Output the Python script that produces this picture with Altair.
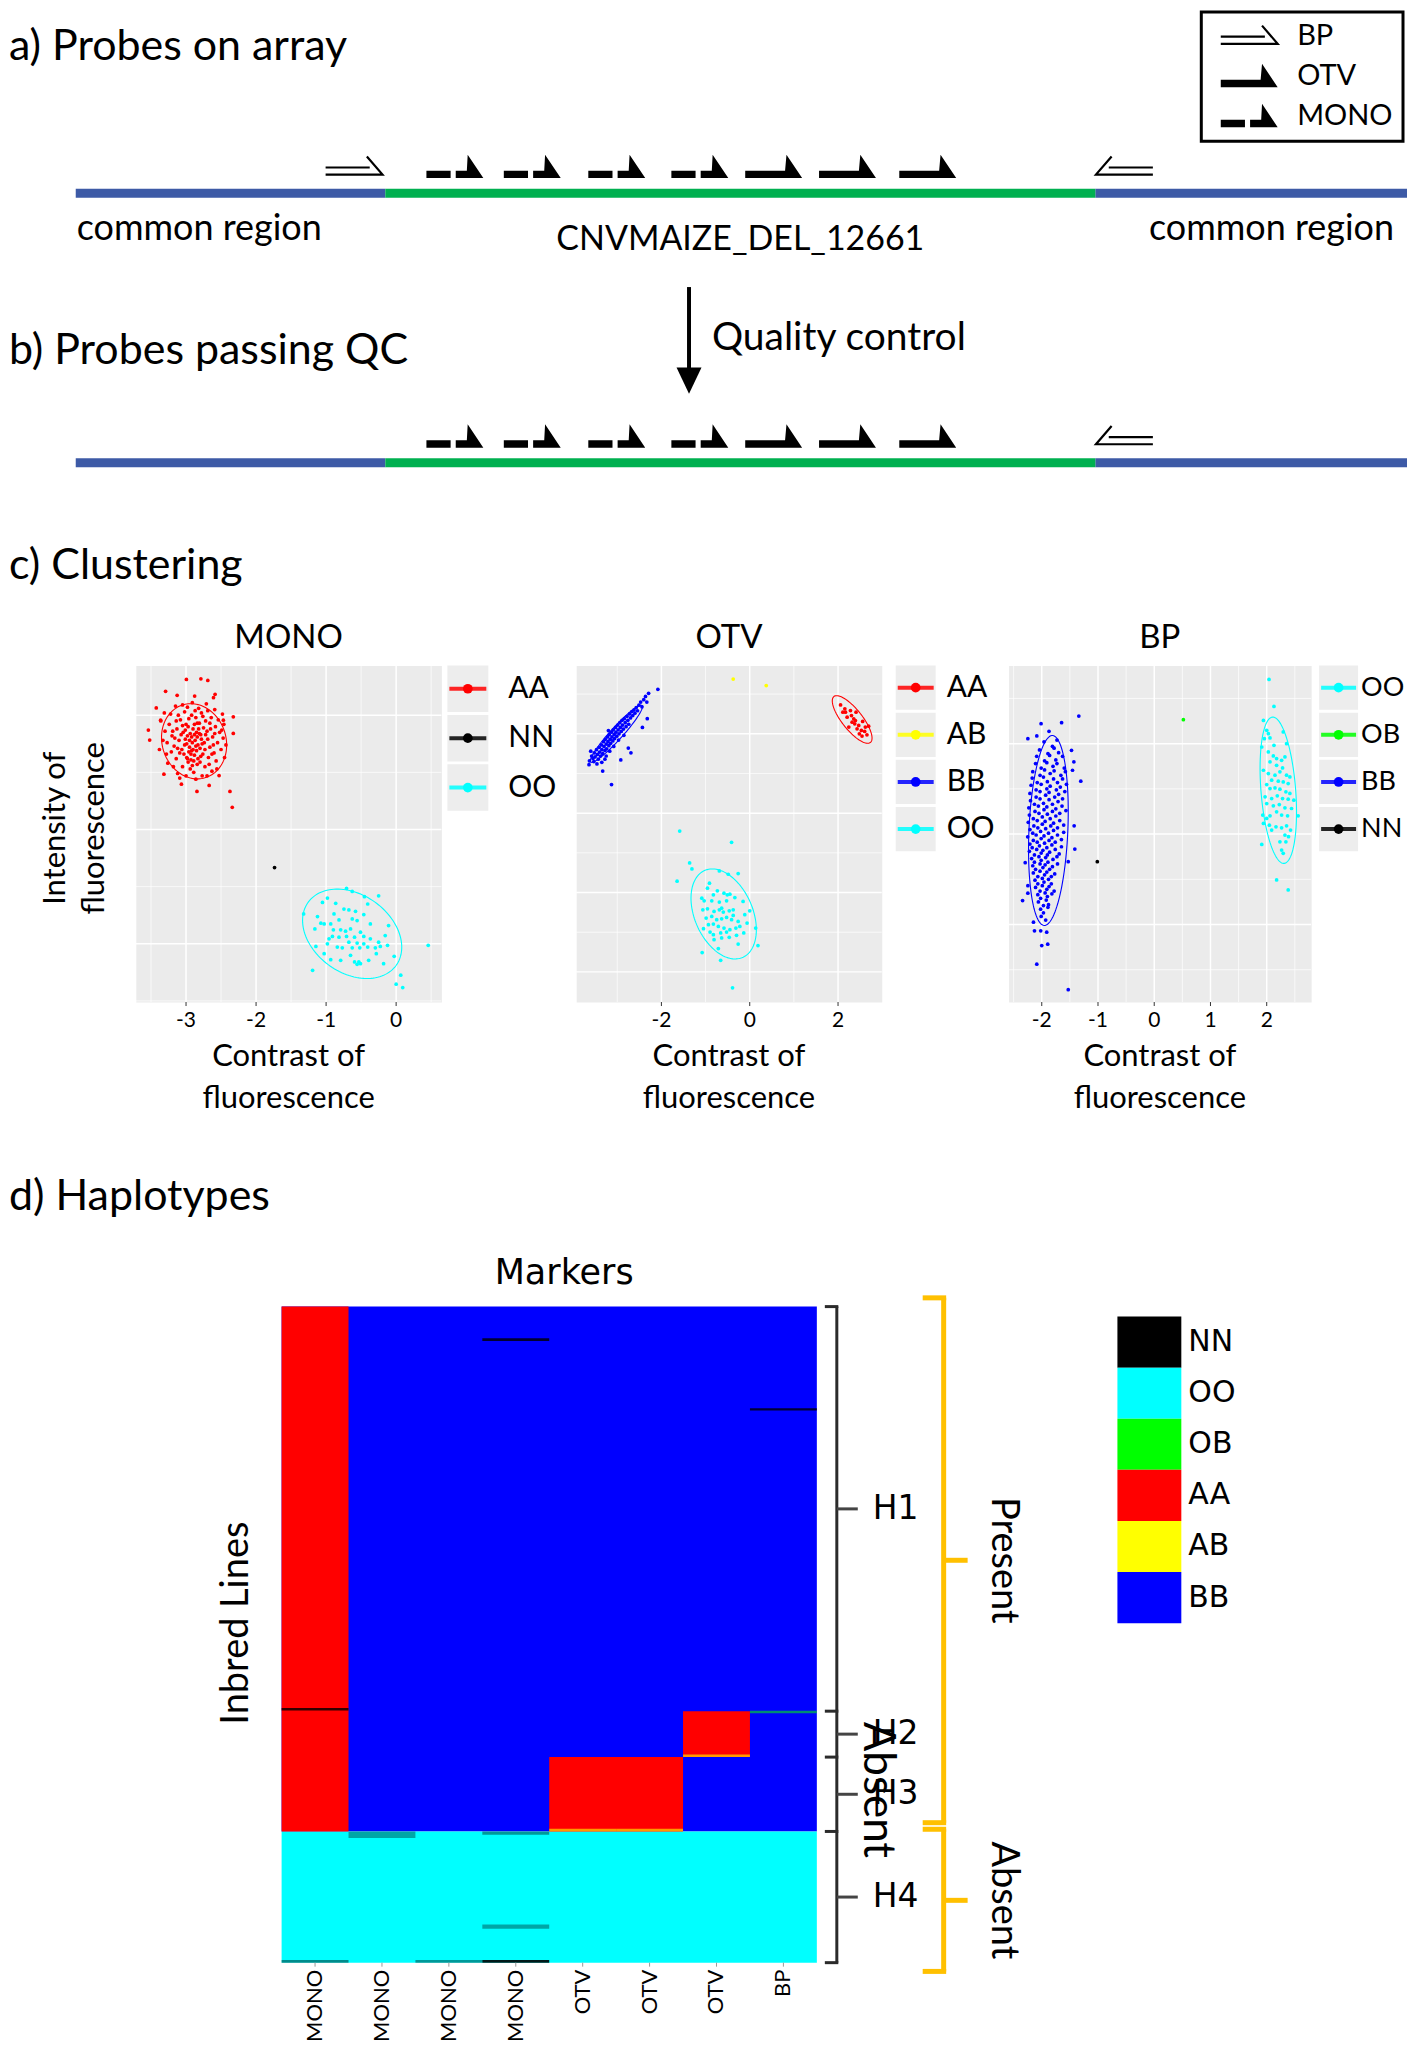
import altair as alt
import pandas as pd

FONT = "Lato"
HFONT = "DejaVu Sans"

# ------------------------------------------------------------------ a/b data
region_name = ["common region", "CNVMAIZE_DEL_12661", "common region"]
region_start = [-43.6, 0.0, 100.0]
region_end = [0.0, 100.0, 143.9]
region_kind = ["common", "deletion", "common"]

probe_type = ["BP", "MONO", "MONO", "MONO", "MONO", "OTV", "OTV", "OTV", "BP"]
probe_pos = [-4.4, 9.8, 20.7, 32.6, 44.3, 54.7, 65.1, 76.4, 104.1]
probe_strand = ["+", "+", "+", "+", "+", "+", "+", "+", "-"]
probe_pass_qc = [False, True, True, True, True, True, True, True, True]
legend_probe_types = ["BP", "OTV", "MONO"]

# ------------------------------------------------------------------ c data
geno_order = ["NN", "OO", "OB", "AA", "AB", "BB"]
geno_colors = ["#000000", "#00FFFF", "#00FF00", "#FF0000", "#FFFF00", "#0000FF"]

mono_aa = [
    (-2.995, 12.313), (-2.788, 12.319), (-2.689, 12.304), (-3.292, 12.209), (-3.127, 12.174),
    (-2.585, 12.183), (-3.425, 12.064), (-3.538, 11.870), (-3.519, 11.783), (-2.325, 11.986),
    (-2.325, 11.841), (-2.373, 11.333), (-2.340, 11.194), (-2.844, 11.333), (-3.066, 11.397),
    (-2.670, 11.386), (-2.528, 11.472), (-3.316, 11.484), (-2.877, 12.168), (-2.608, 12.154),
    (-3.363, 11.957), (-2.467, 11.957),
    (-2.87, 11.78), (-2.92, 11.81), (-2.83, 11.74), (-2.95, 11.72), (-2.79, 11.83), (-2.90, 11.88),
    (-2.85, 11.69), (-3.01, 11.79), (-2.74, 11.76), (-2.88, 11.65), (-2.97, 11.90), (-2.81, 11.93),
    (-3.06, 11.70), (-2.70, 11.86), (-2.93, 11.61), (-2.76, 11.66), (-3.04, 11.85), (-2.86, 11.98),
    (-3.10, 11.78), (-2.66, 11.72), (-2.99, 11.63), (-2.72, 11.95), (-3.13, 11.88), (-2.62, 11.81),
    (-2.84, 11.57), (-3.08, 11.96), (-2.68, 11.63), (-3.17, 11.73), (-2.58, 11.90), (-2.94, 11.53),
    (-2.78, 12.02), (-3.02, 12.03), (-2.64, 11.98), (-3.20, 11.82), (-2.55, 11.76), (-2.89, 11.50),
    (-2.98, 12.07), (-2.73, 11.55), (-3.14, 11.62), (-2.60, 11.67), (-3.24, 11.92), (-2.52, 11.85),
    (-2.82, 12.06), (-3.11, 12.00), (-2.69, 12.04), (-3.27, 11.76), (-2.50, 11.70), (-3.05, 11.55),
    (-2.77, 11.47), (-2.91, 12.11), (-3.18, 11.55), (-2.57, 11.60), (-3.30, 11.86), (-2.47, 11.80),
    (-3.00, 11.47), (-2.63, 11.51), (-3.22, 12.01), (-2.54, 11.96), (-2.86, 11.44), (-3.28, 11.66),
    (-2.46, 11.92), (-3.33, 11.78), (-2.45, 11.63), (-3.09, 11.45), (-2.71, 12.10), (-3.15, 12.08),
    (-2.59, 12.05), (-3.36, 11.95), (-2.43, 11.74), (-2.96, 11.68), (-2.80, 11.71), (-2.91, 11.76),
    (-2.85, 11.85), (-2.94, 11.84), (-2.78, 11.79), (-2.99, 11.75), (-2.83, 11.62), (-2.88, 11.92),
    (-3.03, 11.66), (-2.75, 11.89), (-2.69, 11.79), (-3.07, 11.83), (-2.96, 11.97), (-2.80, 11.59),
    (-3.12, 11.71), (-2.65, 11.88), (-2.90, 11.70), (-2.84, 11.81), (-2.97, 11.59), (-2.73, 11.70),
    (-3.00, 11.92), (-2.76, 11.99), (-3.16, 11.80), (-2.61, 11.74), (-2.92, 12.00), (-3.05, 12.09),
    (-2.67, 11.57), (-3.21, 11.68), (-2.49, 11.87), (-3.38, 11.70), (-2.87, 12.04), (-2.98, 11.82),
    (-2.82, 11.88), (-2.93, 11.66), (-2.89, 11.60), (-3.01, 11.87), (-2.79, 11.64), (-3.26, 11.58),
    (-2.56, 11.53), (-3.31, 12.02), (-2.48, 12.01), (-3.12, 11.49), (-2.70, 11.47),
    (-2.86, 11.73), (-2.95, 11.78), (-2.81, 11.84), (-3.02, 11.74), (-2.77, 11.75), (-2.92, 11.69),
    (-2.88, 11.83), (-3.05, 11.91), (-2.72, 11.83), (-2.98, 11.62), (-2.84, 11.93), (-3.09, 11.67),
    (-2.66, 11.93), (-3.19, 11.86), (-2.63, 11.66), (-3.14, 11.95), (-2.59, 11.84), (-2.91, 11.56),
]
mono_nn = [(-1.736, 10.667)]
mono_oo = [
    (-0.708, 10.484), (-0.627, 10.458), (-0.453, 10.412), (-0.250, 10.420), (-0.981, 10.400),
    (-1.052, 10.362), (-0.863, 10.354), (-0.406, 10.348), (-0.745, 10.304), (-0.675, 10.296),
    (-0.580, 10.284), (-1.321, 10.261), (-1.123, 10.238), (-0.887, 10.261), (-0.462, 10.255),
    (-1.028, 10.174), (-0.934, 10.174), (-1.075, 10.180), (-0.816, 10.209), (-0.627, 10.217),
    (-0.557, 10.203), (-0.368, 10.174), (-1.160, 10.130), (-0.896, 10.122), (-0.792, 10.122),
    (-0.722, 10.110), (-0.651, 10.130), (-0.509, 10.101), (-0.108, 10.159), (-0.958, 10.043),
    (-0.910, 10.064), (-0.816, 10.058), (-0.708, 10.064), (-0.594, 10.058), (-0.462, 10.064),
    (-0.368, 10.043), (-0.156, 10.072), (-0.981, 10.000), (-0.675, 10.014), (-0.557, 10.006),
    (-0.462, 10.000), (-0.250, 10.014), (-0.226, 9.977), (-1.146, 9.977), (-0.840, 9.971),
    (-0.769, 9.965), (-0.627, 9.965), (-0.519, 9.965), (-0.406, 9.971), (-0.297, 9.965),
    (-0.123, 9.986), (0.458, 9.986), (-0.934, 9.861), (-0.651, 9.899), (-0.594, 9.841),
    (-0.557, 9.820), (-0.533, 9.841), (-0.509, 9.826), (-0.392, 9.855), (-0.179, 9.826),
    (-0.283, 9.913), (-0.028, 9.890), (-1.193, 9.768), (0.066, 9.725), (0.000, 9.646),
    (0.094, 9.617), (-1.028, 9.913), (-0.792, 9.855),
]

otv_aa = [
    (2.057, 3.364), (2.169, 3.272), (2.281, 3.293), (2.408, 3.272), (2.206, 3.209), (2.319, 3.146),
    (2.378, 3.126), (2.468, 3.105), (2.558, 3.155), (2.618, 3.084), (2.693, 3.096), (2.483, 3.000),
    (2.543, 2.971), (2.655, 2.987), (2.244, 3.084), (2.109, 3.272), (2.356, 3.188), (2.431, 3.063),
    (2.304, 3.230), (2.528, 3.042), (2.603, 3.029), (2.154, 3.314), (2.393, 3.167),
]
otv_ab = [(-0.374, 3.690), (0.374, 3.607)]
otv_bb = [
    (-3.63, 2.66), (-3.58, 2.72), (-3.55, 2.69), (-3.52, 2.76), (-3.50, 2.71), (-3.47, 2.80),
    (-3.45, 2.74), (-3.43, 2.68), (-3.41, 2.83), (-3.40, 2.77), (-3.38, 2.72), (-3.36, 2.86),
    (-3.35, 2.80), (-3.33, 2.75), (-3.31, 2.90), (-3.30, 2.84), (-3.28, 2.79), (-3.27, 2.93),
    (-3.25, 2.87), (-3.24, 2.81), (-3.22, 2.96), (-3.21, 2.90), (-3.19, 2.85), (-3.18, 2.99),
    (-3.16, 2.93), (-3.15, 2.88), (-3.13, 3.02), (-3.12, 2.96), (-3.10, 2.91), (-3.09, 3.05),
    (-3.07, 2.99), (-3.06, 2.94), (-3.04, 3.08), (-3.03, 3.02), (-3.01, 2.97), (-2.99, 3.11),
    (-2.98, 3.05), (-2.96, 3.00), (-2.94, 3.14), (-2.93, 3.08), (-2.91, 3.03), (-2.89, 3.17),
    (-2.88, 3.11), (-2.86, 3.06), (-2.84, 3.19), (-2.82, 3.14), (-2.80, 3.09), (-2.78, 3.22),
    (-2.76, 3.17), (-2.74, 3.12), (-2.72, 3.25), (-2.70, 3.20), (-2.67, 3.28), (-2.65, 3.23),
    (-2.62, 3.30), (-2.60, 3.26), (-2.57, 3.33), (-2.54, 3.29), (-2.51, 3.36), (-2.47, 3.40),
    (-2.44, 3.34), (-2.40, 3.43), (-2.36, 3.47), (-2.33, 3.40), (-2.29, 3.51), (-2.08, 3.56),
    (-3.33, 2.53), (-3.13, 2.36), (-2.75, 2.82), (-2.69, 2.76), (-2.92, 2.67), (-2.32, 3.19),
    (-2.43, 3.08), (-3.46, 2.62), (-3.53, 2.65), (-3.35, 2.64), (-3.60, 2.78), (-3.25, 2.72),
    (-3.17, 2.78), (-3.64, 2.61), (-3.28, 2.68), (-3.20, 3.04), (-3.08, 2.84), (-2.97, 2.92),
    (-2.85, 2.98),
]
otv_oo = [
    (-1.586, 1.774), (-0.411, 1.632), (-1.361, 1.372), (-1.309, 1.297), (-1.645, 1.142),
    (-0.688, 1.272), (-0.486, 1.230), (-0.262, 1.238), (-0.912, 1.117), (-0.957, 1.054),
    (-0.733, 1.021), (-0.583, 0.992), (-0.509, 0.971), (-0.449, 0.979), (-0.823, 0.971),
    (-1.085, 0.929), (-1.032, 0.895), (-0.860, 0.895), (-0.688, 0.879), (-0.524, 0.895),
    (-0.337, 0.937), (-0.150, 0.887), (-1.062, 0.782), (-0.957, 0.795), (-0.808, 0.762),
    (-0.688, 0.782), (-0.598, 0.753), (-0.464, 0.770), (-0.374, 0.782), (0.000, 0.770),
    (-0.987, 0.678), (-0.860, 0.699), (-0.748, 0.657), (-0.636, 0.669), (-0.524, 0.686),
    (-0.411, 0.657), (-0.112, 0.720), (-0.262, 0.636), (-0.823, 0.603), (-0.711, 0.573),
    (-0.583, 0.552), (-0.449, 0.531), (-0.314, 0.552), (-0.224, 0.573), (-0.060, 0.615),
    (-1.047, 0.544), (-0.898, 0.502), (-0.658, 0.490), (-0.524, 0.502), (-0.299, 0.460),
    (-0.135, 0.490), (0.135, 0.552), (-0.808, 0.406), (-0.636, 0.427), (-0.464, 0.435),
    (-0.262, 0.351), (-0.711, 0.293), (-1.077, 0.243), (-0.658, 0.146), (0.187, 0.331),
    (-0.389, -0.201), (-0.823, 0.469), (-0.374, 0.711), (-0.636, 0.803), (-0.935, 0.594),
]

bp_bb = [
    (-1.341, 2.305), (-1.647, 2.232), (-2.012, 2.221), (-2.247, 2.055), (-2.088, 2.085),
    (-1.871, 2.136), (-1.471, 1.926), (-1.429, 1.798), (-1.453, 1.706), (-1.306, 1.585),
    (-1.424, 1.092), (-1.412, 0.835), (-2.294, 0.684), (-2.247, 0.430), (-2.247, 0.346),
    (-2.341, 0.265), (-2.147, 0.026), (-2.129, -0.070), (-2.018, -0.070), (-1.912, -0.085),
    (-2.000, -0.232), (-1.894, -0.217), (-2.088, -0.438), (-1.529, -0.721), (-1.529, 0.695),
    (-1.96, 2.02), (-1.81, 1.97), (-1.73, 2.04), (-2.04, 1.93), (-1.89, 1.89), (-1.78, 1.95),
    (-1.70, 1.90), (-2.09, 1.86), (-1.95, 1.81), (-1.86, 1.87), (-1.75, 1.82), (-1.63, 1.86),
    (-2.11, 1.78), (-2.01, 1.73), (-1.91, 1.79), (-1.80, 1.75), (-1.73, 1.78), (-1.60, 1.73),
    (-2.16, 1.69), (-2.03, 1.65), (-1.95, 1.71), (-1.85, 1.67), (-1.78, 1.70), (-1.66, 1.65),
    (-1.58, 1.69), (-2.17, 1.62), (-2.08, 1.57), (-1.97, 1.63), (-1.90, 1.58), (-1.79, 1.61),
    (-1.72, 1.57), (-1.63, 1.61), (-2.19, 1.54), (-2.10, 1.49), (-2.01, 1.55), (-1.91, 1.50),
    (-1.85, 1.53), (-1.74, 1.49), (-1.67, 1.52), (-1.56, 1.55), (-2.21, 1.45), (-2.10, 1.41),
    (-2.03, 1.47), (-1.93, 1.43), (-1.87, 1.46), (-1.77, 1.41), (-1.70, 1.44), (-1.59, 1.47),
    (-2.20, 1.37), (-2.13, 1.33), (-2.03, 1.39), (-1.97, 1.34), (-1.87, 1.38), (-1.81, 1.33),
    (-1.71, 1.36), (-1.63, 1.39), (-2.23, 1.29), (-2.12, 1.25), (-2.06, 1.31), (-1.96, 1.27),
    (-1.91, 1.30), (-1.81, 1.25), (-1.75, 1.28), (-1.64, 1.31), (-1.57, 1.26), (-2.22, 1.21),
    (-2.15, 1.17), (-2.05, 1.23), (-1.99, 1.19), (-1.90, 1.22), (-1.85, 1.17), (-1.75, 1.20),
    (-1.68, 1.23), (-2.24, 1.13), (-2.14, 1.09), (-2.08, 1.15), (-1.99, 1.11), (-1.94, 1.14),
    (-1.84, 1.09), (-1.79, 1.12), (-1.68, 1.15), (-1.61, 1.10), (-2.21, 1.05), (-2.16, 1.01),
    (-2.07, 1.07), (-2.02, 1.03), (-1.93, 1.06), (-1.88, 1.01), (-1.79, 1.04), (-1.72, 1.07),
    (-1.61, 1.02), (-2.25, 0.97), (-2.15, 0.93), (-2.10, 0.99), (-2.01, 0.95), (-1.96, 0.98),
    (-1.87, 0.93), (-1.82, 0.96), (-1.72, 0.99), (-1.65, 0.94), (-2.21, 0.89), (-2.17, 0.85),
    (-2.08, 0.91), (-2.04, 0.87), (-1.95, 0.90), (-1.91, 0.85), (-1.82, 0.88), (-1.76, 0.91),
    (-1.65, 0.86), (-2.22, 0.81), (-2.13, 0.77), (-2.09, 0.83), (-2.01, 0.79), (-1.98, 0.82),
    (-1.90, 0.77), (-1.86, 0.80), (-1.76, 0.83), (-1.69, 0.78), (-2.18, 0.73), (-2.13, 0.69),
    (-2.05, 0.75), (-2.01, 0.71), (-1.93, 0.74), (-1.89, 0.69), (-1.80, 0.72), (-1.73, 0.75),
    (-2.16, 0.65), (-2.11, 0.61), (-2.03, 0.67), (-1.98, 0.63), (-1.94, 0.66), (-1.86, 0.61),
    (-1.81, 0.64), (-1.72, 0.67), (-2.15, 0.57), (-2.07, 0.53), (-2.03, 0.59), (-1.95, 0.55),
    (-1.91, 0.58), (-1.83, 0.53), (-1.77, 0.56), (-2.12, 0.49), (-2.07, 0.45), (-1.99, 0.51),
    (-1.96, 0.47), (-1.88, 0.50), (-1.83, 0.45), (-2.11, 0.41), (-2.03, 0.37), (-1.99, 0.43),
    (-1.91, 0.39), (-1.87, 0.42), (-1.78, 0.37), (-2.07, 0.33), (-2.02, 0.29), (-1.94, 0.35),
    (-1.90, 0.31), (-1.82, 0.34), (-2.06, 0.25), (-1.97, 0.21), (-1.92, 0.27), (-1.88, 0.22),
    (-2.02, 0.17), (-1.97, 0.13), (-1.89, 0.19), (-2.01, 0.09), (-1.93, 0.05),
]
bp_nn = [(-1.012, 0.695)]
bp_ob = [(0.518, 2.265)]
bp_oo = [
    (2.041, 2.710), (2.129, 2.412), (1.941, 2.257), (2.000, 2.147), (2.029, 2.110), (2.059, 2.063),
    (2.294, 2.129), (2.353, 2.000), (1.912, 1.963), (2.029, 1.908), (2.118, 1.864), (2.176, 1.835),
    (2.265, 1.816), (2.324, 1.853), (2.059, 1.798), (2.176, 1.761), (2.282, 1.732), (1.941, 1.706),
    (2.029, 1.669), (2.147, 1.651), (2.235, 1.688), (2.353, 1.651), (2.088, 1.596), (2.206, 1.585),
    (2.294, 1.577), (2.382, 1.559), (2.000, 1.548), (2.059, 1.504), (2.147, 1.511), (2.235, 1.496),
    (2.341, 1.467), (2.412, 1.449), (1.971, 1.412), (2.088, 1.393), (2.188, 1.423), (2.282, 1.393),
    (2.382, 1.386), (2.482, 1.375), (2.000, 1.338), (2.118, 1.313), (2.224, 1.327), (2.324, 1.290),
    (2.441, 1.283), (1.929, 1.210), (2.059, 1.202), (2.176, 1.246), (2.265, 1.210), (2.371, 1.202),
    (2.559, 1.202), (1.941, 1.118), (2.047, 1.099), (2.165, 1.081), (2.265, 1.070), (2.353, 1.092),
    (2.424, 1.044), (2.088, 1.044), (2.000, 1.173), (2.324, 0.989), (2.388, 0.971), (2.235, 0.915),
    (2.341, 0.915), (1.912, 0.886), (2.265, 0.824), (2.294, 0.787), (2.176, 0.493), (2.382, 0.382),
    (1.959, 2.055), (2.129, 1.982), (2.412, 1.632),
]

# ellipses: genotype, centre x, centre y, half-width, half-height, correlation
mono_ellipses = [("AA", -2.885, 11.772, 0.465, 0.329, -0.10), ("OO", -0.628, 10.087, 0.708, 0.391, -0.30)]
otv_ellipses = [("BB", -3.02, 3.00, 0.59, 0.36, 0.95), ("AA", 2.32, 3.18, 0.45, 0.30, -0.78),
                ("OO", -0.59, 0.73, 0.74, 0.567, -0.35)]
bp_ellipses = [("BB", -1.882, 1.04, 0.353, 1.05, 0.20), ("OO", 2.206, 1.485, 0.324, 0.809, -0.30)]

mono_legend = ["AA", "NN", "OO"]
otv_legend = ["AA", "AB", "BB", "OO"]
bp_legend = ["OO", "OB", "BB", "NN"]

# ------------------------------------------------------------------ d data
markers = ["MONO.1", "MONO.2", "MONO.3", "MONO.4", "OTV.1", "OTV.2", "OTV.3", "BP.1"]
# genotype blocks: first marker, last marker, first line, last line, call
block_first = ["MONO.1", "MONO.1", "MONO.1", "OTV.1", "OTV.3"]
block_last = ["BP.1", "BP.1", "MONO.1", "OTV.2", "OTV.3"]
block_start = [0, 240, 0, 206, 185]
block_end = [240, 300, 240, 240, 206]
block_geno = ["BB", "OO", "AA", "AA", "AA"]
# single lines with a different call
line_marker = ["MONO.4", "BP.1", "MONO.1", "BP.1", "OTV.3", "OTV.1", "OTV.2", "MONO.2", "MONO.4",
               "MONO.4", "MONO.1", "MONO.3", "MONO.4"]
line_start = [14.5, 46.5, 183.5, 184.8, 204.8, 238.8, 238.8, 240, 240, 282.5, 298.8, 298.8, 298.8]
line_end = [15.7, 47.5, 184.7, 186.0, 206.0, 240.0, 240.0, 243, 241.5, 284.5, 300, 300, 300]
line_geno = ["NN", "NN", "NN", "OB", "AB", "AB", "AB", "NN", "NN", "NN", "NN", "NN", "NN"]
line_alpha = [0.8, 0.8, 0.8, 0.55, 0.6, 0.6, 0.6, 0.35, 0.4, 0.35, 0.45, 0.4, 0.9]

hap_name = ["H1", "H2", "H3", "H4"]
hap_start = [0, 185, 206, 240]
hap_end = [185, 206, 240, 300]
pres_name = ["Present", "Absent"]
pres_top = [-4, 239]
pres_bottom = [236, 304]
ghost_label = ["Absent"]
ghost_row = [221]

# ================================================================== helpers
GENO = alt.Scale(domain=geno_order, range=geno_colors)
ONE = pd.DataFrame({"v": [0]})
BLUE_TRACK = "#3D5AA6"
GREEN_TRACK = "#00B050"


def spacer(w, h):
    return alt.Chart(ONE).mark_point(opacity=0, size=1).encode(
        x=alt.value(w / 2), y=alt.value(h / 2)).properties(width=w, height=h)


def label(text, x, y, size, align="left", font=FONT, angle=0, baseline="alphabetic"):
    return alt.Chart(ONE).mark_text(
        align=align, baseline=baseline, font=font, fontSize=size, angle=angle,
        fontWeight="normal", color="black").encode(
        x=alt.value(x), y=alt.value(y), text=alt.value(text))


# ================================================================== row a/b
XG = alt.Scale(domain=[-53.0, 143.9], nice=False, zero=False)
PATHS = {
    "MONO+": "M-1,-0.02L-0.15,-0.02L-0.15,0.24L-1,0.24Z M0.03,-0.02L0.42,-0.02L0.45,-0.58L1,0.24L0.03,0.24Z",
    "OTV+": "M-1,-0.02L0.4,-0.02L0.45,-0.58L1,0.24L-1,0.24Z",
    "BP+": "M-1,-0.13L0.55,-0.13M-1,0.12L1,0.12L0.45,-0.52",
    "BP-": "M1,-0.13L-0.55,-0.13M1,0.12L-1,0.12L-0.45,-0.52",
}
SHAPE = alt.Scale(domain=list(PATHS.keys()), range=list(PATHS.values()))

reg_df = pd.DataFrame({"name": region_name, "start": region_start, "end": region_end,
                       "kind": region_kind, "idx": [0, 1, 2]})
probe_df = pd.DataFrame({"type": probe_type, "pos": probe_pos, "strand": probe_strand, "qc": probe_pass_qc})


def track(y_line, y_probe, qc_only):
    out = []
    for kind, col in (("common", BLUE_TRACK), ("deletion", GREEN_TRACK)):
        out.append(alt.Chart(reg_df).transform_filter(f"datum.kind == '{kind}'").mark_rect(
            color=col).encode(
            x=alt.X("start:Q", scale=XG, axis=None), x2="end:Q",
            y=alt.value(y_line - 4.5), y2=alt.value(y_line + 4.5)))
    pb = alt.Chart(probe_df)
    if qc_only:
        pb = pb.transform_filter("datum.qc")
    pb = pb.transform_calculate(skey="datum.type + datum.strand")
    out.append(pb.transform_filter("datum.type != 'BP'").mark_point(
        filled=True, opacity=1, color="black", strokeWidth=0).encode(
        x=alt.X("pos:Q", scale=XG, axis=None), y=alt.value(y_probe),
        shape=alt.Shape("skey:N", scale=SHAPE, legend=None), size=alt.value(3249)))
    out.append(pb.transform_filter("datum.type == 'BP'").mark_point(
        filled=False, opacity=1, color="black", strokeWidth=2.2).encode(
        x=alt.X("pos:Q", scale=XG, axis=None), y=alt.value(y_probe),
        shape=alt.Shape("skey:N", scale=SHAPE, legend=None), size=alt.value(3249)))
    return out


region_labels = [
    alt.Chart(reg_df).transform_filter("datum.idx == 0").mark_text(
        align="left", baseline="alphabetic", font=FONT, fontSize=36, color="black", dx=1).encode(
        x=alt.X("start:Q", scale=XG, axis=None), y=alt.value(230), text="name:N"),
    alt.Chart(reg_df).transform_filter("datum.idx == 1").transform_calculate(
        mid="(datum.start + datum.end) / 2").mark_text(
        align="center", baseline="alphabetic", font=FONT, fontSize=34, color="black").encode(
        x=alt.X("mid:Q", scale=XG, axis=None), y=alt.value(240), text="name:N"),
    alt.Chart(reg_df).transform_filter("datum.idx == 2").mark_text(
        align="right", baseline="alphabetic", font=FONT, fontSize=36, color="black", dx=-13).encode(
        x=alt.X("end:Q", scale=XG, axis=None), y=alt.value(230), text="name:N"),
]

leg_df = pd.DataFrame({"type": legend_probe_types})
LY = alt.Scale(domain=legend_probe_types, range=[30, 110], padding=0)
leg_base = alt.Chart(leg_df).transform_calculate(skey="datum.type + '+'")
probe_legend = [
    alt.Chart(ONE).mark_rect(fillOpacity=0, stroke="black", strokeWidth=3).encode(
        x=alt.value(1194), x2=alt.value(1396), y=alt.value(1.5), y2=alt.value(131)),
    leg_base.transform_filter("datum.type != 'BP'").mark_point(
        filled=True, opacity=1, color="black", strokeWidth=0).encode(
        x=alt.value(1242), y=alt.Y("type:N", scale=LY, axis=None),
        shape=alt.Shape("skey:N", scale=SHAPE, legend=None), size=alt.value(3249)),
    leg_base.transform_filter("datum.type == 'BP'").mark_point(
        filled=False, opacity=1, color="black", strokeWidth=2.2).encode(
        x=alt.value(1242), y=alt.Y("type:N", scale=LY, axis=None),
        shape=alt.Shape("skey:N", scale=SHAPE, legend=None), size=alt.value(3249)),
    alt.Chart(leg_df).mark_text(align="left", baseline="alphabetic", font=FONT, fontSize=29,
                                color="black", dy=5).encode(
        x=alt.value(1290), y=alt.Y("type:N", scale=LY, axis=None), text="type:N"),
]

qc_arrow = [
    alt.Chart(ONE).mark_rule(strokeWidth=4, color="black").encode(
        x=alt.value(681), y=alt.value(277), y2=alt.value(361)),
    alt.Chart(ONE).mark_point(shape="M-1,-1L1,-1L0,1.1Z", filled=True, opacity=1,
                              color="black", size=625).encode(x=alt.value(681), y=alt.value(370)),
    label("Quality control", 704, 340, 39),
]

row_top = alt.layer(
    *track(183, 161, False), *track(453, 431, True), *region_labels, *probe_legend, *qc_arrow,
    label("a) Probes on array", 0, 50, 43),
    label("b) Probes passing QC", 0, 354, 43),
    label("c) Clustering", 0, 569, 43),
).properties(width=1400, height=656)


# ================================================================== row c
def ellipse_layer(g, cx, cy, hx, hy, rho, xs, ys):
    col = geno_colors[geno_order.index(g)]
    return alt.Chart(alt.sequence(0, 6.35, 0.05, as_="t")).transform_calculate(
        ex=f"{cx} + {hx} * cos(datum.t)",
        ey=f"{cy} + {hy} * (({rho}) * cos(datum.t) + sqrt(1 - ({rho}) * ({rho})) * sin(datum.t))",
    ).mark_line(color=col, strokeWidth=1.1).encode(
        x=alt.X("ex:Q", scale=xs, axis=None), y=alt.Y("ey:Q", scale=ys, axis=None), order="t:Q")


def scatter_panel(name, groups, ellipses, xdom, ydom, xmaj, xmin, ymaj, ymin, w, h, ytitle):
    xs = alt.Scale(domain=xdom, nice=False, zero=False)
    ys = alt.Scale(domain=ydom, nice=False, zero=False)
    rows = []
    for g, pts in groups:
        for (px, py) in pts:
            rows.append({"x": px, "y": py, "g": g})
    df = pd.DataFrame(rows)
    tick_df = pd.DataFrame({"v": xmaj})
    layers = [
        alt.Chart(pd.DataFrame({"v": xmin})).mark_rule(color="white", strokeWidth=0.7).encode(
            x=alt.X("v:Q", scale=xs, axis=None)),
        alt.Chart(pd.DataFrame({"v": ymin})).mark_rule(color="white", strokeWidth=0.7).encode(
            y=alt.Y("v:Q", scale=ys, axis=None)),
        alt.Chart(tick_df).mark_rule(color="white", strokeWidth=1.5).encode(
            x=alt.X("v:Q", scale=xs, axis=None)),
        alt.Chart(pd.DataFrame({"v": ymaj})).mark_rule(color="white", strokeWidth=1.5).encode(
            y=alt.Y("v:Q", scale=ys, axis=None)),
        # x axis: ticks, tick labels, two-line title
        alt.Chart(tick_df).mark_rule(color="#333333", strokeWidth=1).encode(
            x=alt.X("v:Q", scale=xs, axis=None), y=alt.value(h), y2=alt.value(h + 4)),
        alt.Chart(tick_df).transform_calculate(lab="'' + datum.v").mark_text(
            font=FONT, fontSize=21, color="black", baseline="middle", align="center").encode(
            x=alt.X("v:Q", scale=xs, axis=None), y=alt.value(h + 19), text="lab:N"),
        label("Contrast of", w / 2, h + 55, 31, align="center", baseline="middle"),
        label("fluorescence", w / 2, h + 97, 31, align="center", baseline="middle"),
    ]
    if ytitle:
        layers.append(label("Intensity of", -80, 163, 31, align="center", angle=270, baseline="middle"))
        layers.append(label("fluorescence", -41, 163, 31, align="center", angle=270, baseline="middle"))
    layers.append(alt.Chart(df).mark_circle(size=14, opacity=1).encode(
        x=alt.X("x:Q", scale=xs, axis=None), y=alt.Y("y:Q", scale=ys, axis=None),
        color=alt.Color("g:N", scale=GENO, legend=None)))
    for e in ellipses:
        layers.append(ellipse_layer(*e, xs, ys))
    return alt.layer(*layers).properties(
        width=w, height=h,
        title=alt.TitleParams(name, font=FONT, fontSize=33, fontWeight="normal", color="black",
                              offset=10, anchor="middle"),
        view=alt.ViewBackground(fill="#EBEBEB", stroke="transparent"))


def legend_panel(cats, step, kx0, kx1, lx, w, fs=30):
    df = pd.DataFrame({"g": cats})
    ys = alt.Scale(domain=cats, paddingInner=0.06, paddingOuter=0)
    base = alt.Chart(df)
    rect = base.mark_rect(color="#EDEDED").encode(
        x=alt.value(kx0), x2=alt.value(kx1), y=alt.Y("g:N", scale=ys, axis=None))
    line = base.mark_rule(strokeWidth=4, opacity=0.85).encode(
        x=alt.value(kx0 + 2), x2=alt.value(kx1 - 2), y=alt.Y("g:N", scale=ys, axis=None, bandPosition=0.5),
        color=alt.Color("g:N", scale=GENO, legend=None))
    pt = base.mark_circle(size=95, opacity=1).encode(
        x=alt.value((kx0 + kx1) / 2), y=alt.Y("g:N", scale=ys, axis=None, bandPosition=0.5),
        color=alt.Color("g:N", scale=GENO, legend=None))
    txt = base.mark_text(align="left", baseline="middle", font=FONT, fontSize=fs, color="black").encode(
        x=alt.value(lx), y=alt.Y("g:N", scale=ys, axis=None, bandPosition=0.5), text="g:N")
    return alt.layer(rect, line, pt, txt).properties(width=w, height=step * len(cats))


mono = scatter_panel("MONO", [("AA", mono_aa), ("OO", mono_oo), ("NN", mono_nn)], mono_ellipses,
                     [-3.717, 0.646], [9.49, 12.435], [-3, -2, -1, 0], [-3.5, -2.5, -1.5, -0.5, 0.5],
                     [10, 11, 12], [9.5, 10.5, 11.5], 306, 337, True)
otv = scatter_panel("OTV", [("BB", otv_bb), ("OO", otv_oo), ("AA", otv_aa), ("AB", otv_ab)], otv_ellipses,
                    [-3.93, 2.99], [-0.38, 3.86], [-2, 0, 2], [-3, -1, 1],
                    [0, 1, 2, 3], [0.5, 1.5, 2.5, 3.5], 306, 337, False)
bp = scatter_panel("BP", [("BB", bp_bb), ("OO", bp_oo), ("NN", bp_nn), ("OB", bp_ob)], bp_ellipses,
                   [-2.59, 2.79], [-0.857, 2.864], [-2, -1, 0, 1, 2], [-2.5, -1.5, -0.5, 0.5, 1.5, 2.5],
                   [0, 1, 2], [-0.5, 0.5, 1.5, 2.5], 303, 337, False)

row_c = alt.hconcat(
    spacer(127, 337), mono, legend_panel(mono_legend, 48.5, 6, 47, 67, 135),
    otv, legend_panel(otv_legend, 46.5, 14, 54, 65, 127),
    bp, legend_panel(bp_legend, 46.5, 8, 47, 50, 88, fs=27),
    spacing=0, bounds="flush")

# nested concat rows count as zero height in a flush layout, so this row covers
# the scatter row (337) and the gap above the heatmap (305)
row_mid = alt.layer(spacer(1400, 642), label("d) Haplotypes", 0, 545, 43)).properties(width=1400, height=642)

# ================================================================== row d
HY = alt.Scale(domain=[0, 300], reverse=True, nice=False, zero=False)
HX = alt.Scale(domain=[0, len(markers)], nice=False, zero=False)
blocks = pd.DataFrame({"c0": [markers.index(m) for m in block_first],
                       "c1": [markers.index(m) + 1 for m in block_last],
                       "start": block_start, "end": block_end, "geno": block_geno})
lines = pd.DataFrame({"c0": [markers.index(m) for m in line_marker],
                      "c1": [markers.index(m) + 1 for m in line_marker],
                      "start": line_start, "end": line_end, "geno": line_geno, "a": line_alpha})
mk_df = pd.DataFrame({"marker": markers, "c": [i + 0.5 for i in range(len(markers))]})
heat = alt.layer(
    alt.Chart(blocks).mark_rect().encode(
        x=alt.X("c0:Q", scale=HX, axis=None), x2="c1:Q",
        y=alt.Y("start:Q", scale=HY, axis=None), y2="end:Q",
        color=alt.Color("geno:N", scale=GENO, legend=None)),
    alt.Chart(lines).mark_rect().encode(
        x=alt.X("c0:Q", scale=HX, axis=None), x2="c1:Q",
        y=alt.Y("start:Q", scale=HY, axis=None), y2="end:Q",
        color=alt.Color("geno:N", scale=GENO, legend=None),
        opacity=alt.Opacity("a:Q", scale=None)),
    alt.Chart(mk_df).mark_rule(color="#999999", strokeWidth=1).encode(
        x=alt.X("c:Q", scale=HX, axis=None), y=alt.value(657), y2=alt.value(661)),
    alt.Chart(mk_df).transform_calculate(lab="split(datum.marker, '.')[0]").mark_text(
        font=FONT, fontSize=22, color="black", angle=270, align="right", baseline="middle").encode(
        x=alt.X("c:Q", scale=HX, axis=None), y=alt.value(664), text="lab:N"),
    label("Markers", 283, -34, 35, align="center", font=HFONT, baseline="middle"),
    label("Inbred Lines", -45, 317, 38, align="center", angle=270, baseline="middle"),
).properties(width=536, height=657)

hap_df = pd.DataFrame({"name": hap_name, "start": hap_start, "end": hap_end})
bnd_df = pd.DataFrame({"b": sorted(set(hap_start + hap_end))})
pres_df = pd.DataFrame({"name": pres_name, "top": pres_top, "bot": pres_bottom})
ghost_df = pd.DataFrame({"t": ghost_label, "row": ghost_row})
ORANGE = "#FFC000"
DARK = "#2B2B2B"
annot = alt.layer(
    alt.Chart(hap_df).mark_rule(color=DARK, strokeWidth=3).encode(
        x=alt.value(20), y=alt.Y("start:Q", scale=HY, axis=None), y2="end:Q"),
    alt.Chart(bnd_df).mark_rule(color=DARK, strokeWidth=3).encode(
        x=alt.value(8), x2=alt.value(21.5), y=alt.Y("b:Q", scale=HY, axis=None)),
    alt.Chart(hap_df).transform_calculate(mid="(datum.start + datum.end) / 2").mark_rule(
        color="#444444", strokeWidth=3).encode(
        x=alt.value(20), x2=alt.value(41), y=alt.Y("mid:Q", scale=HY, axis=None)),
    alt.Chart(hap_df).transform_calculate(mid="(datum.start + datum.end) / 2").mark_text(
        align="left", baseline="middle", font=HFONT, fontSize=33, color="black").encode(
        x=alt.value(56), y=alt.Y("mid:Q", scale=HY, axis=None), text="name:N"),
    alt.Chart(pres_df).mark_rule(color=ORANGE, strokeWidth=5).encode(
        x=alt.value(127), y=alt.Y("top:Q", scale=HY, axis=None), y2="bot:Q"),
    alt.Chart(pres_df).mark_rule(color=ORANGE, strokeWidth=5).encode(
        x=alt.value(106), x2=alt.value(129.5), y=alt.Y("top:Q", scale=HY, axis=None)),
    alt.Chart(pres_df).mark_rule(color=ORANGE, strokeWidth=5).encode(
        x=alt.value(106), x2=alt.value(129.5), y=alt.Y("bot:Q", scale=HY, axis=None)),
    alt.Chart(pres_df).transform_calculate(mid="(datum.top + datum.bot) / 2").mark_rule(
        color=ORANGE, strokeWidth=5).encode(
        x=alt.value(127), x2=alt.value(151), y=alt.Y("mid:Q", scale=HY, axis=None)),
    alt.Chart(pres_df).transform_calculate(mid="(datum.top + datum.bot) / 2").mark_text(
        align="center", baseline="middle", font=FONT, fontSize=38, angle=90, color="black").encode(
        x=alt.value(186), y=alt.Y("mid:Q", scale=HY, axis=None), text="name:N"),
    alt.Chart(ghost_df).mark_text(
        align="center", baseline="middle", font=FONT, fontSize=44, angle=90, color="black").encode(
        x=alt.value(60), y=alt.Y("row:Q", scale=HY, axis=None), text="t:N"),
).properties(width=301, height=657)

hl_df = pd.DataFrame({"g": geno_order})
HLY = alt.Scale(domain=geno_order, paddingInner=0, paddingOuter=0)
heat_legend = alt.layer(
    alt.Chart(hl_df).mark_rect().encode(
        x=alt.value(0), x2=alt.value(64), y=alt.Y("g:N", scale=HLY, axis=None),
        color=alt.Color("g:N", scale=GENO, legend=None)),
    alt.Chart(hl_df).mark_text(align="left", baseline="middle", font=HFONT, fontSize=30, color="black").encode(
        x=alt.value(71), y=alt.Y("g:N", scale=HLY, axis=None), text="g:N"),
).properties(width=64, height=307)

row_d = alt.hconcat(
    spacer(273, 657), heat, annot,
    alt.vconcat(spacer(64, 10), heat_legend, spacing=0, bounds="flush"),
    spacing=0, bounds="flush")

# keeps the drawing tall enough for the rotated marker labels, without exceeding the page
bottom_pad = spacer(1400, 738)

chart = alt.vconcat(row_top, row_c, row_mid, row_d, bottom_pad, spacing=0, bounds="flush").properties(
    padding=0).configure_view(stroke="transparent").configure_concat(spacing=0)

chart.save("out.html", embed_options={"renderer": "svg", "actions": False})
